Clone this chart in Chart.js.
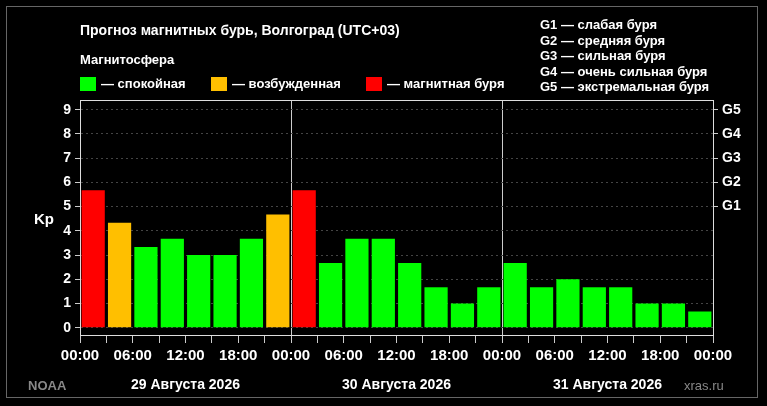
<!DOCTYPE html>
<html><head><meta charset="utf-8">
<script src="https://cdn.jsdelivr.net/npm/chart.js@4"></script>
<style>
body{margin:0;background:#000;font-family:"Liberation Sans",Arial,sans-serif;color:#fff}
#wrap{position:relative;width:767px;height:406px;overflow:hidden}
.t{position:absolute;white-space:nowrap;font-weight:bold}
.box{position:absolute;width:16px;height:14px}
#frame{position:absolute;left:6px;top:6px;width:752px;height:392px;border:1px solid #666;box-sizing:border-box}
</style></head><body>
<div id="wrap">
<canvas id="c" width="767" height="406"></canvas>
<div id="frame"></div>
<div class="t" style="left:80px;top:22px;font-size:14px">Прогноз магнитных бурь, Волгоград (UTC+03)</div>
<div class="t" style="left:80px;top:52px;font-size:13px">Магнитосфера</div>
<div class="box" style="left:80px;top:77px;background:#00ff00"></div>
<div class="t" style="left:101px;top:76px;font-size:13px">— спокойная</div>
<div class="box" style="left:211px;top:77px;background:#ffbf00"></div>
<div class="t" style="left:232px;top:76px;font-size:13px">— возбужденная</div>
<div class="box" style="left:366px;top:77px;background:#ff0000"></div>
<div class="t" style="left:387px;top:76px;font-size:13px">— магнитная буря</div>
<div class="t" style="left:540px;top:17px;font-size:13px;line-height:15.5px">G1 — слабая буря<br>G2 — средняя буря<br>G3 — сильная буря<br>G4 — очень сильная буря<br>G5 — экстремальная буря</div>
<div class="t" style="left:34px;top:210px;font-size:15px">Kp</div>
<div class="t" style="left:28px;top:378px;font-size:13px;color:#888">NOAA</div>
<div class="t" style="left:684px;top:378px;font-size:13px;color:#888;font-weight:normal">xras.ru</div>
</div>
<script>
var kpValues = [5.67,4.33,3.33,3.67,3.0,3.0,3.67,4.67, 5.67,2.67,3.67,3.67,2.67,1.67,1.0,1.67, 2.67,1.67,2.0,1.67,1.67,1.0,1.0,0.67];
var dayLabels = ['29 Августа 2026','30 Августа 2026','31 Августа 2026'];
var hourLabels = ['00:00','06:00','12:00','18:00'];
var gLabels = ['G1','G2','G3','G4','G5'];

function kpColor(v){
  if (v >= 5) return '#ff0000';
  if (v >= 4) return '#ffbf00';
  return '#00ff00';
}

var points = kpValues.map(function(v,i){ return {x:i+0.5, y:v}; });

var frameAndDays = {
  id:'frameAndDays',
  afterDraw:function(chart){
    var ctx = chart.ctx, a = chart.chartArea, xs = chart.scales.x;
    ctx.save();
    ctx.strokeStyle = '#ddd'; ctx.lineWidth = 1;
    ctx.strokeRect(a.left+0.5, a.top+0.5, a.right-a.left, a.bottom-a.top);
    ctx.fillStyle = '#fff'; ctx.font = 'bold 14px "Liberation Sans", Arial';
    ctx.textAlign = 'center'; ctx.textBaseline = 'middle';
    dayLabels.forEach(function(d,i){ ctx.fillText(d, xs.getPixelForValue(i*8+4), 385); });
    ctx.restore();
  }
};

new Chart(document.getElementById('c'), {
  type:'bar',
  data:{ datasets:[{
    data: points,
    backgroundColor: kpValues.map(kpColor),
    barPercentage: 0.88,
    categoryPercentage: 1
  }]},
  options:{
    responsive:false, animation:false,
    layout:{padding:{top:100,left:0,right:0,bottom:0}},
    plugins:{legend:{display:false},tooltip:{enabled:false}},
    scales:{
      x:{
        type:'linear', min:0, max:24, offset:false,
        afterFit:function(s){ s.height = 71; },
        ticks:{stepSize:1, autoSkip:false, maxRotation:0, color:'#fff', padding:4,
          font:{size:15, weight:'bold', family:'"Liberation Sans", Arial'},
          callback:function(v){ return v % 2 === 0 ? hourLabels[(v/2)%4] : ''; }},
        grid:{
          offset:false,
          color:function(c){ var v=c.tick&&c.tick.value; return (v===8||v===16)?'#ccc':'rgba(0,0,0,0)'; },
          tickColor:'#ccc', tickLength:8, lineWidth:1
        },
        border:{color:'#ddd'}
      },
      y:{
        min:-0.3, max:9.4, position:'left',
        afterFit:function(s){ s.width = 80; },
        ticks:{stepSize:1, color:'#fff', padding:4,
          font:{size:14, weight:'bold', family:'"Liberation Sans", Arial'},
          callback:function(v){ return Number.isInteger(v) && v>=0 ? v : ''; }},
        afterBuildTicks:function(s){ s.ticks = [0,1,2,3,4,5,6,7,8,9].map(function(v){return {value:v};}); },
        grid:{color:'#444', tickColor:'#ccc', tickLength:5},
        border:{color:'#ddd', dash:[2,3]}
      },
      y2:{
        min:-0.3, max:9.4, position:'right',
        afterFit:function(s){ s.width = 54; },
        afterBuildTicks:function(s){ s.ticks = [5,6,7,8,9].map(function(v){return {value:v};}); },
        ticks:{color:'#fff', padding:4,
          font:{size:14, weight:'bold', family:'"Liberation Sans", Arial'},
          callback:function(v){ return gLabels[v-5]; }},
        grid:{drawOnChartArea:false, tickColor:'#ccc', tickLength:5},
        border:{color:'#ddd'}
      }
    }
  },
  plugins:[frameAndDays]
});
</script>
</body></html>
